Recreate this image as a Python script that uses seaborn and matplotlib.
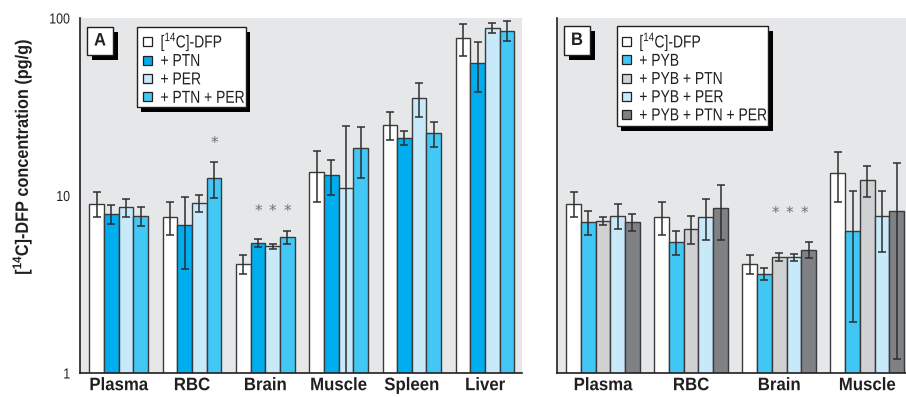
import numpy as np
import pandas as pd
import matplotlib
matplotlib.use("Agg")
import matplotlib.pyplot as plt
import matplotlib.patches as mpatches
from matplotlib.patheffects import AbstractPathEffect
from matplotlib.transforms import Affine2D
import seaborn as sns

# ---- data: mean and SD of [14C]-DFP concentration (pg/g) ----
tissues_a = ["Plasma", "RBC", "Brain", "Muscle", "Spleen", "Liver"]
groups_a = ["dfp", "ptn", "per", "ptn_per"]
labels_a = ["[$^{\\mathregular{14}}$C]-DFP", "+ PTN", "+ PER", "+ PTN + PER"]
colors_a = ["#FFFFFF", "#00AEEF", "#C8E9F9", "#43C7F4"]

mean_dfp_a = [9.0, 7.6, 4.1, 13.5, 25.0, 77.0]
sd_dfp_a = [1.4, 1.6, 0.5, 4.3, 4.4, 16.0]
mean_ptn_a = [7.9, 6.8, 5.4, 13.0, 21.2, 56.0]
sd_ptn_a = [0.95, 2.95, 0.27, 2.9, 2.0, 17.7]
mean_per_a = [8.6, 9.1, 5.17, 11.0, 35.5, 88.0]
sd_per_a = [1.0, 1.0, 0.18, 13.6, 7.7, 5.5]
mean_ptn_per_a = [7.7, 12.6, 5.8, 18.5, 22.4, 85.0]
sd_ptn_per_a = [0.95, 2.9, 0.5, 5.9, 3.6, 11.0]

tissues_b = ["Plasma", "RBC", "Brain", "Muscle"]
groups_b = ["dfp", "pyb", "pyb_ptn", "pyb_per", "pyb_ptn_per"]
labels_b = ["[$^{\\mathregular{14}}$C]-DFP", "+ PYB", "+ PYB + PTN",
            "+ PYB + PER", "+ PYB + PTN + PER"]
colors_b = ["#FFFFFF", "#40C7F3", "#D0D1D3", "#C8E9F9", "#7F8184"]

mean_dfp_b = [9.0, 7.6, 4.1, 13.4]
sd_dfp_b = [1.4, 1.6, 0.5, 4.2]
mean_pyb_b = [7.1, 5.5, 3.6, 6.3]
sd_pyb_b = [1.1, 0.85, 0.28, 4.35]
mean_pyb_ptn_b = [7.2, 6.5, 4.5, 12.2]
sd_pyb_ptn_b = [0.4, 1.15, 0.23, 2.4]
mean_pyb_per_b = [7.7, 7.6, 4.5, 7.7]
sd_pyb_per_b = [1.2, 2.0, 0.2, 2.9]
mean_pyb_ptn_per_b = [7.1, 8.5, 4.95, 8.2]
sd_pyb_ptn_per_b = [0.8, 2.9, 0.5, 7.0]

# significance marks: (tissue, group, height of the asterisk)
stars_a = [("RBC", "ptn_per", 19.6), ("Brain", "ptn", 8.1),
           ("Brain", "per", 8.1), ("Brain", "ptn_per", 8.1)]
stars_b = [("Brain", "pyb_ptn", 7.9), ("Brain", "pyb_per", 7.9),
           ("Brain", "pyb_ptn_per", 7.9)]

means_a = [mean_dfp_a, mean_ptn_a, mean_per_a, mean_ptn_per_a]
sds_a = [sd_dfp_a, sd_ptn_a, sd_per_a, sd_ptn_per_a]
means_b = [mean_dfp_b, mean_pyb_b, mean_pyb_ptn_b, mean_pyb_per_b, mean_pyb_ptn_per_b]
sds_b = [sd_dfp_b, sd_pyb_b, sd_pyb_ptn_b, sd_pyb_per_b, sd_pyb_ptn_per_b]


def long_table(tissues, groups, means, sds):
    rows = []
    for g, m, s in zip(groups, means, sds):
        for t, mv, sv in zip(tissues, m, s):
            rows.append({"tissue": t, "group": g, "mean": mv, "sd": sv})
    return pd.DataFrame(rows)


class Condense(AbstractPathEffect):
    """Squeeze glyph outlines horizontally to imitate a condensed typeface."""

    def __init__(self, sx=0.85, anchor="center"):
        super().__init__()
        self.sx = sx
        self.anchor = anchor

    def draw_path(self, renderer, gc, tpath, affine, rgbFace=None):
        xs = tpath.vertices[:, 0]
        if len(xs) == 0:
            return
        if self.anchor == "right":
            cx = xs.max()
        elif self.anchor == "left":
            cx = xs.min()
        else:
            cx = 0.5 * (xs.min() + xs.max())
        squeeze = Affine2D().translate(-cx, 0).scale(self.sx, 1).translate(cx, 0)
        renderer.draw_path(gc, tpath, squeeze + affine, rgbFace)


df_a = long_table(tissues_a, groups_a, means_a, sds_a)
df_b = long_table(tissues_b, groups_b, means_b, sds_b)

sns.set_theme(style="white")
plt.rcParams["font.family"] = ["Liberation Sans", "DejaVu Sans"]
plt.rcParams["mathtext.default"] = "regular"

BG = "#E6E7E8"
INK = "#231F20"
W, H = 906, 397

fig = plt.figure(figsize=(W / 100, H / 100), dpi=100)
# pixel coordinates measured from the top-left corner of the figure
PX = Affine2D().scale(1 / W, -1 / H).translate(0, 1) + fig.transFigure

ax_a = fig.add_axes([80 / W, 24 / H, 441.7 / W, 355 / H])
ax_b = fig.add_axes([557 / W, 24 / H, 349 / W, 355 / H])


def shadowed_box(x0, y0, x1, y1, dx=4.5, dy=5.0):
    fig.add_artist(mpatches.Rectangle((x0 + dx, y0 + dy), x1 - x0, y1 - y0,
                                      transform=PX, facecolor="black",
                                      edgecolor="black", linewidth=0, zorder=19))
    fig.add_artist(mpatches.Rectangle((x0, y0), x1 - x0, y1 - y0, transform=PX,
                                      facecolor="white", edgecolor=INK,
                                      linewidth=1.0, zorder=20))


def draw_legend(box, row0, step, sq_x, text_x, colors, labels):
    shadowed_box(*box)
    for i, (c, lab) in enumerate(zip(colors, labels)):
        yc = row0 + i * step
        fig.add_artist(mpatches.Rectangle((sq_x, yc - 4.5), 9, 9, transform=PX,
                                          facecolor=c, edgecolor=INK,
                                          linewidth=0.9, zorder=21))
        fig.text(text_x, yc + 6.0, lab, transform=PX, ha="left",
                 va="baseline", fontsize=12.5, color=INK, zorder=21,
                 path_effects=[Condense(0.8, "left")])


def draw_letter(letter, box):
    shadowed_box(*box)
    fig.text(0.5 * (box[0] + box[2]), 0.5 * (box[1] + box[3]), letter,
             transform=PX, ha="center", va="center", fontsize=13,
             fontweight="bold", color=INK, zorder=21,
             path_effects=[Condense(0.92, "center")])


def draw_panel(ax, df, tissues, groups, colors, width, xlim, stars, star_dx=0):
    ax.set_facecolor(BG)
    palette = dict(zip(groups, colors))
    sns.barplot(data=df, x="tissue", y="mean", hue="group", order=tissues,
                hue_order=groups, palette=palette, width=width, errorbar=None,
                edgecolor="#3A3A3A", linewidth=1.0, saturation=1, ax=ax,
                legend=False)
    ax.set_yscale("log")
    ax.set_ylim(1, 100)
    ax.set_xlim(*xlim)

    # error bars (SD) at each bar's centre
    centers = {}
    for g, cont in zip(groups, ax.containers):
        sub = df[df["group"] == g].set_index("tissue").loc[tissues]
        xs = [p.get_x() + p.get_width() / 2 for p in cont.patches]
        for t, x in zip(tissues, xs):
            centers[(t, g)] = x
        ax.errorbar(xs, sub["mean"].values, yerr=sub["sd"].values, fmt="none",
                    ecolor="#2E2E2E", elinewidth=1.1, capsize=2.9,
                    capthick=1.1, zorder=5)

    for t, g, h in stars:
        ax.annotate("*", (centers[(t, g)], h), xytext=(star_dx, 0),
                    textcoords="offset points", ha="center", va="center",
                    fontsize=11, color="#6D6E71", fontfamily="DejaVu Sans")

    for side in ("top", "right"):
        ax.spines[side].set_visible(False)
    for side in ("left", "bottom"):
        ax.spines[side].set_color(INK)
        ax.spines[side].set_linewidth(1.2)
    ax.set_xlabel("")
    ax.set_ylabel("")
    ax.set_yticks([1, 10, 100])
    ax.yaxis.set_minor_locator(matplotlib.ticker.NullLocator())
    ax.set_yticklabels(["1", "10", "100"])
    ax.tick_params(axis="both", length=0)
    ax.tick_params(axis="y", labelsize=10.5, pad=7, labelcolor=INK)
    ax.tick_params(axis="x", labelsize=13, pad=3, labelcolor=INK)
    for lab in ax.get_xticklabels():
        lab.set_fontweight("bold")
        lab.set_path_effects([Condense(0.93, "center")])
    for lab in ax.get_yticklabels():
        lab.set_path_effects([Condense(0.85, "right")])


draw_panel(ax_a, df_a, tissues_a, groups_a, colors_a, 0.8,
           (-0.529, 5.50), stars_a)
draw_panel(ax_b, df_b, tissues_b, groups_b, colors_b, 0.835,
           (-0.523, 3.44), stars_b, star_dx=-3)
ax_b.set_yticklabels([])

draw_letter("A", (87, 27, 113, 55))
draw_letter("B", (564, 26, 590, 55))
draw_legend((136.7, 26.7, 245.7, 107.3), 41.6, 18.4, 142.7, 160.5,
            colors_a, labels_a)
draw_legend((616.7, 26.0, 768.3, 126.0), 41.6, 18.2, 621.7, 639.3,
            colors_b, labels_b)

fig.text(22, 157, "[$^{\\mathregular{14}}$C]-DFP concentration (pg/g)",
         transform=PX, rotation=90, ha="center", va="center", fontsize=13,
         fontweight="bold", color=INK, path_effects=[Condense(0.9, "center")])

fig.savefig("out.png", dpi=100)
